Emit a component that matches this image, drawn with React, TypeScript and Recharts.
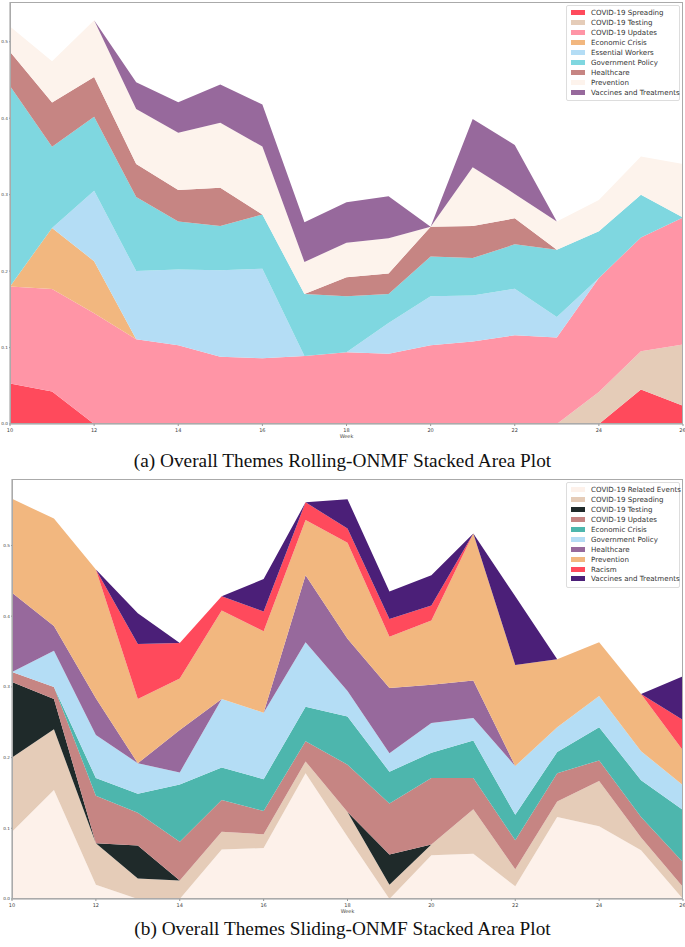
import React from 'react';
import { AreaChart, Area, XAxis, YAxis } from 'recharts';

const weeks = [10, 11, 12, 13, 14, 15, 16, 17, 18, 19, 20, 21, 22, 23, 24, 25, 26];

// (a) Rolling-ONMF themes, bottom to top
const rollSpreading = [0.053, 0.0425, 0, 0, 0, 0, 0, 0, 0, 0, 0, 0, 0, 0, 0, 0.045, 0.024];
const rollTesting = [0, 0, 0, 0, 0, 0, 0, 0, 0, 0, 0, 0, 0, 0, 0.042, 0.050, 0.080];
const rollUpdates = [0.127, 0.134, 0.145, 0.111, 0.103, 0.088, 0.086, 0.089, 0.094, 0.092, 0.103, 0.108, 0.116, 0.113, 0.149, 0.149, 0.166];
const rollEconomic = [0, 0.080, 0.068, 0, 0, 0, 0, 0, 0, 0, 0, 0, 0, 0, 0, 0, 0];
const rollWorkers = [0, 0, 0.092, 0.089, 0.099, 0.113, 0.117, 0, 0, 0.040, 0.064, 0.060, 0.061, 0.027, 0, 0, 0];
const rollPolicy = [0.262, 0.106, 0.097, 0.097, 0.063, 0.058, 0.071, 0.081, 0.073, 0.038, 0.052, 0.049, 0.058, 0.088, 0.061, 0.056, 0];
const rollHealthcare = [0.045, 0.058, 0.052, 0.043, 0.041, 0.050, 0, 0, 0.025, 0.027, 0.039, 0.042, 0.034, 0, 0, 0, 0];
const rollPrevention = [0.033, 0.054, 0.074, 0.072, 0.075, 0.085, 0.089, 0.042, 0.045, 0.046, 0, 0.077, 0.032, 0.037, 0.041, 0.050, 0.070];
const rollVaccines = [0, 0, 0, 0.035, 0.040, 0.050, 0.055, 0.052, 0.053, 0.055, 0, 0.063, 0.064, 0, 0, 0, 0];

// (b) Sliding-ONMF themes, bottom to top
const slideEvents = [0.095, 0.154, 0.020, 0, 0, 0.070, 0.072, 0.178, 0.088, 0, 0.062, 0.064, 0.018, 0.116, 0.103, 0.069, 0];
const slideSpreading = [0.105, 0.086, 0.059, 0.029, 0.026, 0.025, 0.0195, 0.0165, 0.035, 0.020, 0.015, 0.063, 0.024, 0.022, 0.064, 0.018, 0.017];
const slideTesting = [0.107, 0.043, 0, 0.0465, 0, 0, 0, 0, 0, 0.043, 0, 0, 0, 0, 0, 0, 0];
const slideUpdates = [0.014, 0.017, 0.067, 0.0465, 0.055, 0.045, 0.033, 0.0285, 0.067, 0.072, 0.094, 0.044, 0.041, 0.040, 0.029, 0.029, 0.035];
const slideEconomic = [0, 0, 0.025, 0.027, 0.081, 0.046, 0.045, 0.049, 0.068, 0.045, 0.036, 0.053, 0.036, 0.030, 0.047, 0.052, 0.074];
const slidePolicy = [0, 0.051, 0.061, 0.043, 0.017, 0.097, 0.094, 0.091, 0.036, 0.026, 0.042, 0.032, 0.069, 0.035, 0.044, 0.041, 0.035];
const slideHealthcare = [0.112, 0.035, 0.052, 0, 0.060, 0, 0, 0.095, 0.074, 0.0925, 0.054, 0.053, 0, 0, 0, 0, 0];
const slidePrevention = [0.133, 0.152, 0.182, 0.091, 0.073, 0.125, 0.115, 0.078, 0.136, 0.0725, 0.091, 0.208, 0.143, 0.096, 0.076, 0.081, 0.049];
const slideRacism = [0, 0, 0, 0.0775, 0.050, 0.020, 0.028, 0.025, 0.020, 0.025, 0.021, 0, 0, 0, 0, 0, 0.043];
const slideVaccines = [0, 0, 0, 0.0435, 0, 0, 0.046, 0, 0.0415, 0.039, 0.043, 0, 0.097, 0, 0, 0, 0.062];

const xTicks = [10, 12, 14, 16, 18, 20, 22, 24, 26];
const yTicks = [0, 0.1, 0.2, 0.3, 0.4, 0.5];

const rollSeries = [
  { name: 'COVID-19 Spreading', values: rollSpreading, color: '#ff4a5c' },
  { name: 'COVID-19 Testing', values: rollTesting, color: '#e5ccb8' },
  { name: 'COVID-19 Updates', values: rollUpdates, color: '#ff95a6' },
  { name: 'Economic Crisis', values: rollEconomic, color: '#f2b77f' },
  { name: 'Essential Workers', values: rollWorkers, color: '#b4ddf5' },
  { name: 'Government Policy', values: rollPolicy, color: '#7fd7e0' },
  { name: 'Healthcare', values: rollHealthcare, color: '#c68583' },
  { name: 'Prevention', values: rollPrevention, color: '#fdf3ec' },
  { name: 'Vaccines and Treatments', values: rollVaccines, color: '#97699c' },
];

const slideSeries = [
  { name: 'COVID-19 Related Events', values: slideEvents, color: '#fdf1ea' },
  { name: 'COVID-19 Spreading', values: slideSpreading, color: '#e5ccb8' },
  { name: 'COVID-19 Testing', values: slideTesting, color: '#1f2a2a' },
  { name: 'COVID-19 Updates', values: slideUpdates, color: '#c68583' },
  { name: 'Economic Crisis', values: slideEconomic, color: '#4db6ad' },
  { name: 'Government Policy', values: slidePolicy, color: '#b4ddf5' },
  { name: 'Healthcare', values: slideHealthcare, color: '#97699c' },
  { name: 'Prevention', values: slidePrevention, color: '#f2b77f' },
  { name: 'Racism', values: slideRacism, color: '#ff4a5c' },
  { name: 'Vaccines and Treatments', values: slideVaccines, color: '#4b1f78' },
];

type Series = { name: string; values: number[]; color: string };

const buildRows = (series: Series[]) =>
  weeks.map((w, i) => {
    const row: Record<string, number> = { week: w };
    series.forEach(s => { row[s.name] = s.values[i]; });
    return row;
  });

const tickStyle = { fill: '#444', fontSize: 5, fontFamily: 'DejaVu Sans, sans-serif' };
const yTickStyle = { fill: '#444', fontSize: 4.2, fontFamily: 'DejaVu Sans, sans-serif' };

const LegendBox = ({ series, left, top }: { series: Series[]; left: number; top: number }) => (
  <div style={{
    position: 'absolute', left, top, width: 112, padding: '2px 0 3px 0',
    background: 'rgba(255,255,255,0.85)', border: '1px solid #ddd', borderRadius: 2,
    fontFamily: 'DejaVu Sans, sans-serif', fontSize: 7.1, color: '#333',
  }}>
    {series.map(s => (
      <div key={s.name} style={{ display: 'flex', alignItems: 'center', height: 9.9, whiteSpace: 'nowrap' }}>
        <div style={{ width: 14, height: 5, background: s.color, marginLeft: 4, marginRight: 6, flexShrink: 0 }} />
        <span>{s.name}</span>
      </div>
    ))}
  </div>
);

const StackPanel = ({ series, top, yMax, left, height }: { series: Series[]; top: number; yMax: number; left: number; height: number }) => {
  const rows = buildRows(series);
  return (
    <div style={{ position: 'absolute', left: 0, top }}>
      <AreaChart width={685} height={height} data={rows} margin={{ top: 2, right: 2, left: 0, bottom: 0 }}>
        <XAxis dataKey="week" type="number" domain={[10, 26]} ticks={xTicks} tick={tickStyle}
          tickSize={2} height={16} stroke="#999" allowDataOverflow
          label={{ value: 'Week', position: 'insideBottom', offset: 2, style: { ...tickStyle } }} />
        <YAxis type="number" domain={[0, yMax]} ticks={yTicks} tick={yTickStyle} tickSize={1} tickMargin={1}
          width={left} stroke="#999" allowDataOverflow tickFormatter={(v: number) => v.toFixed(1)} />
        {series.map(s => (
          <Area key={s.name} type="linear" dataKey={s.name} stackId="1" stroke="none"
            fill={s.color} fillOpacity={1} isAnimationActive={false} />
        ))}
      </AreaChart>
      <div style={{
        position: 'absolute', left, top: 2, width: 685 - left - 2, height: height - 18,
        border: '1px solid #aaa', boxSizing: 'border-box', pointerEvents: 'none',
      }} />
    </div>
  );
};

const captionStyle: React.CSSProperties = {
  position: 'absolute', left: 0, width: 685, textAlign: 'center',
  fontFamily: '"Liberation Serif", "DejaVu Serif", serif', fontSize: 19.3, color: '#111',
};

export default function App() {
  return (
    <div style={{ position: 'absolute', left: 0, top: 0, width: 685, height: 947, background: '#fff' }}>
      <StackPanel series={rollSeries} top={0} yMax={0.552} left={10} height={440} />
      <LegendBox series={rollSeries} left={566} top={5} />
      <div style={{ ...captionStyle, top: 450 }}>(a) Overall Themes Rolling-ONMF Stacked Area Plot</div>
      <StackPanel series={slideSeries} top={477} yMax={0.594} left={12} height={438} />
      <LegendBox series={slideSeries} left={566} top={482} />
      <div style={{ ...captionStyle, top: 918 }}>(b) Overall Themes Sliding-ONMF Stacked Area Plot</div>
    </div>
  );
}
